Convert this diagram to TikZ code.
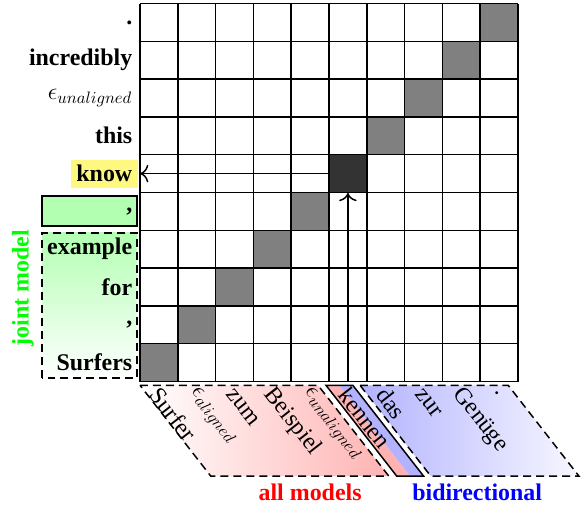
\documentclass[tikz,border=0pt]{standalone}
\usepackage{fontspec}
\setmainfont{Liberation Serif}
\usepackage{amsmath}
\usetikzlibrary{shapes, arrows.meta}

\begin{document}
\begin{tikzpicture}[x=0.8cm, y=0.8cm, font=\Large,
    rowlab/.style={anchor=east, font=\Large\bfseries},
    collab/.style={anchor=west, rotate=-52, inner sep=2pt},
    dashbox/.style={line width=0.9pt, dash pattern=on 4.8pt off 3pt},
    cell/.style={minimum size=0.8cm, inner sep=0pt, fill=gray},
    pointer/.style={-{To[scale=1.4]}, line width=0.9pt}]
  \useasboundingbox (-3.704,-3.294) rectangle (11.746,10.093);
  \coordinate (gridSW) at (0,0);

  % regions under the column words
  \shade[left color=white, right color=red!30] (0,-0.1) -- (4.71,-0.1) -- (6.58,-2.5) -- (1.87,-2.5) -- cycle;
  \draw[dashbox] (0,-0.1) -- (4.71,-0.1) -- (6.58,-2.5) -- (1.87,-2.5) -- cycle;
  \shade[left color=blue!30, right color=blue!3] (5.82,-0.1) -- (9.74,-0.1) -- (11.61,-2.5) -- (7.69,-2.5) -- cycle;
  \draw[dashbox] (5.82,-0.1) -- (9.74,-0.1) -- (11.61,-2.5) -- (7.69,-2.5) -- cycle;
  \fill[red!30] (4.92,-0.1) -- (5.275,-0.1) -- (7.145,-2.5) -- (6.79,-2.5) -- cycle;
  \fill[blue!30] (5.275,-0.1) -- (5.63,-0.1) -- (7.5,-2.5) -- (7.145,-2.5) -- cycle;
  \draw[line width=0.9pt] (4.92,-0.1) -- (5.63,-0.1) -- (7.5,-2.5) -- (6.79,-2.5) -- cycle;

  % boxes beside the row words
  \draw[line width=0.9pt, fill=green!30] (-2.59,4.11) rectangle (-0.08,4.91);
  \shade[top color=green!30, bottom color=white] (-2.59,0.095) rectangle (-0.08,3.93);
  \draw[dashbox] (-2.59,0.095) rectangle (-0.08,3.93);

  % alignment matrix
  \foreach \i in {0,...,4,6,7,8,9}
    \node[cell] (d\i) at (\i+0.5, \i+0.5) {};
  \node[cell, fill=black!80] (hit) at (5.5,5.5) {};
  \foreach \k in {0,...,10}
  {\draw[line width=0.9pt] (\k,0) -- (\k,10);
   \draw[line width=0.9pt] (0,\k) -- (10,\k);
  }

  % row words
  \foreach \w [count=\i from 0] in {Surfers, {,}, for, example, {,}, {}, this, {$\epsilon_{unaligned}$}, incredibly, .}
    \node[rowlab] (r\i) at (-0.05, \i+0.5) {\w};
  \node[rowlab, fill=yellow!50] (know) at (-0.05, 5.5) {know};

  % column words
  \foreach \w [count=\i from 0] in {Surfer, {$\epsilon_{aligned}$}, zum, Beispiel, {$\epsilon_{unaligned}$}, kennen, das, zur, Genüge, .}
    \node[collab] (c\i) at (\i+0.33, -0.17) {\w};

  \draw[pointer] (hit.west) -- (hit.west -| gridSW);
  \draw[pointer] (hit.south |- gridSW) -- (hit.south);

  \node[rotate=90, text=green, font=\Large\bfseries] (joint) at (-3.1,2.47) {joint model};
  \node[text=red, font=\Large\bfseries] (allm) at (4.5,-2.92) {all models};
  \node[text=blue, font=\Large\bfseries] (bidir) at (8.92,-2.92) {bidirectional};
\end{tikzpicture}
\end{document}
